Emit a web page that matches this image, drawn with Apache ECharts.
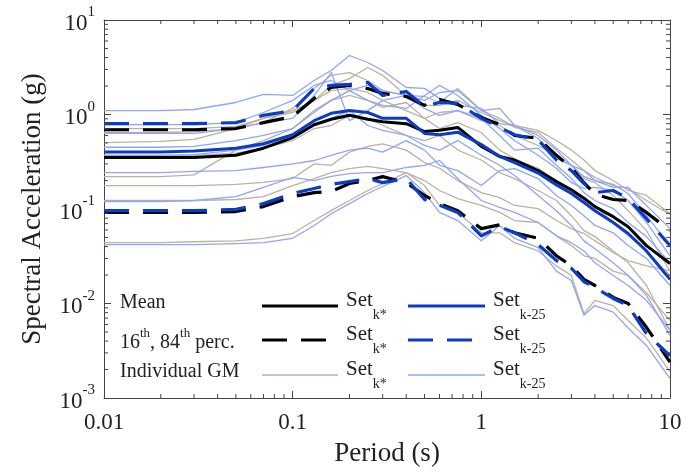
<!DOCTYPE html>
<html>
<head>
<meta charset="utf-8">
<script src="https://cdn.jsdelivr.net/npm/echarts@6/dist/echarts.min.js"></script>
<style>
  html, body { margin: 0; padding: 0; background: #ffffff; }
  #chart { width: 691px; height: 473px; }
</style>
</head>
<body>
<div id="chart"></div>
<script>
// Periods (s) at which every spectrum is sampled
const periods = [0.01, 0.02, 0.03, 0.05, 0.07, 0.1, 0.13, 0.16, 0.2, 0.25, 0.3, 0.4, 0.5, 0.6, 0.75,
                 1, 1.25, 1.5, 2, 2.5, 3, 3.5, 4, 5, 6, 7.5, 10];

// Mean spectra (g)
const meanKstar = [0.35, 0.35, 0.35, 0.37, 0.44, 0.57, 0.78, 0.89, 0.98, 0.89, 0.84, 0.80, 0.66, 0.68, 0.73,
                   0.46, 0.36, 0.33, 0.255, 0.195, 0.16, 0.13, 0.106, 0.083, 0.065, 0.041, 0.0265];
const meanK25 = [0.40, 0.40, 0.41, 0.44, 0.49, 0.61, 0.86, 1.03, 1.10, 1.05, 0.91, 0.91, 0.63, 0.61, 0.65,
                 0.48, 0.36, 0.31, 0.24, 0.18, 0.146, 0.117, 0.096, 0.072, 0.055, 0.036, 0.018];

// 84th percentile spectra (g)
const p84Kstar = [0.69, 0.69, 0.69, 0.71, 0.82, 0.95, 1.48, 1.93, 2.03, 1.88, 1.67, 1.55, 1.25, 1.44, 1.28,
                  0.93, 0.78, 0.60, 0.56, 0.37, 0.275, 0.19, 0.143, 0.126, 0.123, 0.092, 0.059];
const p84K25 = [0.80, 0.80, 0.80, 0.82, 0.98, 1.10, 1.89, 2.03, 2.08, 2.18, 1.59, 1.75, 1.22, 1.34, 1.31,
                0.91, 0.73, 0.61, 0.54, 0.33, 0.255, 0.186, 0.149, 0.157, 0.129, 0.079, 0.041];

// 16th percentile spectra (g)
const p16Kstar = [0.092, 0.092, 0.092, 0.094, 0.106, 0.135, 0.149, 0.153, 0.186, 0.20, 0.22, 0.19, 0.139, 0.114, 0.096,
                  0.062, 0.068, 0.056, 0.049, 0.032, 0.025, 0.018, 0.0155, 0.0116, 0.010, 0.0056, 0.0024];
const p16K25 = [0.096, 0.096, 0.096, 0.099, 0.114, 0.146, 0.165, 0.182, 0.195, 0.21, 0.19, 0.21, 0.126, 0.11, 0.092,
                0.052, 0.065, 0.056, 0.042, 0.0285, 0.0236, 0.017, 0.0148, 0.0113, 0.0095, 0.0048, 0.0028];

// Individual ground-motion spectra, set k*
const gmKstar = [
  [0.645, 0.645, 0.66, 0.71, 0.82, 1.16, 1.89, 2.59, 2.78, 2.29, 1.79, 1.59, 1.55, 1.34, 1.89, 1.10, 0.91, 0.73, 0.645, 0.44, 0.33, 0.255, 0.216, 0.177, 0.165, 0.123, 0.0875],
  [0.505, 0.52, 0.545, 0.71, 0.91, 1.10, 1.41, 1.79, 1.89, 1.71, 1.41, 1.10, 0.91, 1.05, 1.10, 0.86, 0.765, 0.60, 0.47, 0.37, 0.29, 0.21, 0.19, 0.139, 0.096, 0.059, 0.022],
  [0.22, 0.22, 0.23, 0.42, 0.53, 0.71, 1.05, 1.41, 1.59, 1.41, 1.19, 1.34, 0.91, 0.71, 0.82, 0.645, 0.42, 0.34, 0.27, 0.20, 0.149, 0.129, 0.109, 0.072, 0.052, 0.036, 0.0198],
  [0.177, 0.177, 0.177, 0.182, 0.191, 0.21, 0.30, 0.29, 0.40, 0.46, 0.49, 0.42, 0.31, 0.27, 0.20, 0.149, 0.132, 0.109, 0.101, 0.0755, 0.062, 0.055, 0.046, 0.0346, 0.0285, 0.025, 0.0223],
  [0.044, 0.044, 0.045, 0.046, 0.049, 0.055, 0.0755, 0.096, 0.123, 0.157, 0.186, 0.243, 0.177, 0.109, 0.092, 0.056, 0.056, 0.044, 0.036, 0.025, 0.0198, 0.0078, 0.0108, 0.0095, 0.0066, 0.0043, 0.0019],
  [0.71, 0.71, 0.71, 0.75, 0.91, 1.05, 1.41, 2.03, 2.40, 3.14, 2.59, 1.59, 1.25, 1.25, 1.41, 1.05, 0.86, 0.765, 0.68, 0.53, 0.42, 0.33, 0.255, 0.20, 0.157, 0.139, 0.089],
  [0.37, 0.37, 0.37, 0.39, 0.44, 0.53, 0.71, 0.765, 0.98, 0.91, 0.765, 0.60, 0.53, 0.60, 0.42, 0.33, 0.243, 0.21, 0.157, 0.123, 0.085, 0.059, 0.051, 0.036, 0.027, 0.0155, 0.0052],
  [0.123, 0.123, 0.123, 0.126, 0.135, 0.177, 0.21, 0.243, 0.268, 0.282, 0.268, 0.243, 0.20, 0.157, 0.129, 0.109, 0.092, 0.0755, 0.072, 0.052, 0.041, 0.032, 0.030, 0.022, 0.0198, 0.013, 0.0066]
];

// Individual ground-motion spectra, set k-25
const gmK25 = [
  [1.10, 1.10, 1.13, 1.34, 1.63, 1.59, 2.29, 2.92, 4.21, 3.55, 2.92, 1.93, 1.89, 1.48, 1.25, 1.16, 0.80, 0.765, 0.60, 0.42, 0.29, 0.22, 0.20, 0.169, 0.169, 0.109, 0.062],
  [0.63, 0.63, 0.63, 0.71, 0.82, 0.91, 1.59, 2.78, 0.86, 1.10, 1.41, 1.59, 1.16, 0.98, 1.10, 0.91, 0.60, 0.42, 0.44, 0.29, 0.21, 0.149, 0.123, 0.101, 0.072, 0.051, 0.027],
  [0.45, 0.45, 0.46, 0.53, 0.60, 0.71, 1.10, 1.41, 1.79, 2.03, 1.79, 1.59, 1.41, 1.71, 1.79, 1.10, 1.16, 0.765, 0.557, 0.342, 0.289, 0.255, 0.20, 0.182, 0.146, 0.085, 0.041],
  [0.243, 0.243, 0.25, 0.255, 0.275, 0.30, 0.326, 0.37, 0.42, 0.44, 0.40, 0.53, 0.42, 0.29, 0.255, 0.177, 0.255, 0.268, 0.21, 0.139, 0.109, 0.085, 0.067, 0.056, 0.041, 0.030, 0.0155],
  [0.12, 0.12, 0.123, 0.135, 0.169, 0.216, 0.20, 0.221, 0.237, 0.243, 0.243, 0.275, 0.289, 0.326, 0.21, 0.123, 0.104, 0.092, 0.072, 0.052, 0.044, 0.036, 0.027, 0.0198, 0.0155, 0.0108, 0.0052],
  [0.042, 0.042, 0.042, 0.043, 0.044, 0.049, 0.067, 0.089, 0.114, 0.146, 0.173, 0.226, 0.149, 0.092, 0.0755, 0.046, 0.067, 0.049, 0.039, 0.022, 0.0175, 0.0075, 0.0095, 0.0081, 0.0055, 0.0036, 0.0016],
  [0.78, 0.78, 0.78, 0.82, 1.05, 1.41, 2.03, 2.29, 1.79, 1.41, 1.25, 1.16, 1.59, 2.03, 1.59, 0.98, 0.71, 0.53, 0.37, 0.27, 0.19, 0.165, 0.169, 0.157, 0.123, 0.072, 0.032],
  [0.37, 0.37, 0.377, 0.42, 0.47, 0.60, 0.765, 0.91, 1.10, 0.765, 0.68, 0.60, 0.47, 0.42, 0.53, 0.37, 0.29, 0.226, 0.139, 0.096, 0.067, 0.046, 0.038, 0.027, 0.0198, 0.0122, 0.0046]
];

// Axis ranges
const xRange = [0.01, 10];
const yRange = [0.001, 10];

const FONT = '"Liberation Serif", "Times New Roman", serif';
const TXT = '#222';
const AXIS = '#444';
const C_BLACK = '#000000';
const C_BLUE = '#0a3cc8';
const C_GRAY = '#bab2a3';
const C_LBLUE = '#8fa6f7';
const DASH = [25, 14];

const pairs = vals => periods.map((p, i) => [p, vals[i]]);

function lineSeries(name, vals, color, width, dash, z) {
  return {
    name, type: 'line', data: pairs(vals), showSymbol: false, symbol: 'none',
    silent: true, z, animation: false,
    lineStyle: { color, width, type: dash || 'solid', cap: 'butt', join: 'round' }
  };
}

// Minor tick positions (2..9 within every decade)
function minorTicks(lo, hi) {
  const out = [];
  for (let d = lo; d < hi * 0.999; d *= 10) {
    for (let k = 2; k <= 9; k++) out.push(+(d * k).toPrecision(3));
  }
  return out;
}
const xMinor = minorTicks(xRange[0], xRange[1]);
const yMinor = minorTicks(yRange[0], yRange[1]);

const series = [];
gmKstar.forEach((v, i) => series.push(lineSeries('Set k* GM ' + (i + 1), v, C_GRAY, 1.3, null, 2)));
gmK25.forEach((v, i) => series.push(lineSeries('Set k-25 GM ' + (i + 1), v, C_LBLUE, 1.3, null, 2)));
series.push(lineSeries('Set k* 84th', p84Kstar, C_BLACK, 3.2, DASH, 3));
series.push(lineSeries('Set k* 16th', p16Kstar, C_BLACK, 3.2, DASH, 3));
series.push(lineSeries('Set k* mean', meanKstar, C_BLACK, 3, null, 3));
series.push(lineSeries('Set k-25 84th', p84K25, C_BLUE, 3.2, DASH, 4));
series.push(lineSeries('Set k-25 16th', p16K25, C_BLUE, 3.2, DASH, 4));
series.push(lineSeries('Set k-25 mean', meanK25, C_BLUE, 3, null, 4));

// Minor ticks on all four sides, placed through the axis scales
series.push({
  type: 'custom', silent: true, z: 10, animation: false,
  data: xMinor.map(v => [v, 1]),
  renderItem: (params, api) => {
    const v = api.value(0);
    const b = api.coord([v, yRange[0]]);
    const t = api.coord([v, yRange[1]]);
    const st = { stroke: AXIS, lineWidth: 1 };
    return { type: 'group', children: [
      { type: 'line', shape: { x1: b[0], y1: b[1], x2: b[0], y2: b[1] - 4 }, style: st },
      { type: 'line', shape: { x1: t[0], y1: t[1], x2: t[0], y2: t[1] + 4 }, style: st }
    ]};
  }
});
series.push({
  type: 'custom', silent: true, z: 10, animation: false,
  data: yMinor.map(v => [1, v]),
  renderItem: (params, api) => {
    const v = api.value(1);
    const l = api.coord([xRange[0], v]);
    const r = api.coord([xRange[1], v]);
    const st = { stroke: AXIS, lineWidth: 1 };
    return { type: 'group', children: [
      { type: 'line', shape: { x1: l[0], y1: l[1], x2: l[0] + 4, y2: l[1] }, style: st },
      { type: 'line', shape: { x1: r[0], y1: r[1], x2: r[0] - 4, y2: r[1] }, style: st }
    ]};
  }
});

const baseX = {
  type: 'log', logBase: 10, min: xRange[0], max: xRange[1],
  splitLine: { show: false },
  axisLine: { show: true, lineStyle: { color: AXIS, width: 1 } },
  axisTick: { show: true, inside: true, length: 7, lineStyle: { color: AXIS } },
  minorTick: { show: false }
};
const baseY = {
  type: 'log', logBase: 10, min: yRange[0], max: yRange[1],
  splitLine: { show: false },
  axisLine: { show: true, lineStyle: { color: AXIS, width: 1 } },
  axisTick: { show: true, inside: true, length: 7, lineStyle: { color: AXIS } },
  minorTick: { show: false }
};

// Legend rows
const legendRows = [
  { label: 'Mean', y: 306, dash: null, wK: 3, wB: 3, cK: C_BLACK, cB: C_BLUE },
  { label: '{n|16}{s|th}{n|, 84}{s|th}{n| perc.}', y: 340, dash: DASH, wK: 3.2, wB: 3.2, cK: C_BLACK, cB: C_BLUE },
  { label: 'Individual GM', y: 375, dash: null, wK: 1.3, wB: 1.3, cK: C_GRAY, cB: C_LBLUE }
];
const legendGraphics = [];
legendRows.forEach(r => {
  legendGraphics.push({
    type: 'text', left: 120, top: r.y - 13, z: 20,
    style: {
      text: r.label, fill: TXT, font: '20px ' + FONT,
      rich: {
        n: { fontSize: 20, fontFamily: FONT, lineHeight: 26, verticalAlign: 'bottom', fill: TXT },
        s: { fontSize: 13, fontFamily: FONT, lineHeight: 13, verticalAlign: 'top', fill: TXT }
      }
    }
  });
  legendGraphics.push({
    type: 'line', z: 20, shape: { x1: 262, y1: r.y, x2: 338, y2: r.y },
    style: { stroke: r.cK, lineWidth: r.wK, lineDash: r.dash || null }
  });
  legendGraphics.push({
    type: 'line', z: 20, shape: { x1: 408, y1: r.y, x2: 485, y2: r.y },
    style: { stroke: r.cB, lineWidth: r.wB, lineDash: r.dash || null }
  });
  const setRich = {
    n: { fontSize: 21, fontFamily: FONT, lineHeight: 32, verticalAlign: 'top', fill: TXT },
    u: { fontSize: 14, fontFamily: FONT, lineHeight: 14, verticalAlign: 'bottom', fill: TXT }
  };
  legendGraphics.push({
    type: 'text', left: 346, top: r.y - 16, z: 20,
    style: { text: '{n|Set}{u|k*}', rich: setRich }
  });
  legendGraphics.push({
    type: 'text', left: 493, top: r.y - 16, z: 20,
    style: { text: '{n|Set}{u|k-25}', rich: setRich }
  });
});

const chart = echarts.init(document.getElementById('chart'), null, { renderer: 'canvas' });
chart.setOption({
  animation: false,
  backgroundColor: '#ffffff',
  grid: { left: 104, right: 21, top: 20, bottom: 75, containLabel: false },
  xAxis: [
    Object.assign({}, baseX, {
      position: 'bottom',
      name: 'Period (s)', nameLocation: 'middle', nameGap: 42,
      nameTextStyle: { fontFamily: FONT, fontSize: 27, color: TXT },
      axisLabel: {
        show: true, margin: 13, fontFamily: FONT, fontSize: 23, color: TXT,
        formatter: v => String(Number(v.toPrecision(6)))
      }
    }),
    Object.assign({}, baseX, { position: 'top', axisLabel: { show: false } })
  ],
  yAxis: [
    Object.assign({}, baseY, {
      position: 'left',
      name: 'Spectral Acceleration (g)', nameLocation: 'middle', nameGap: 58, nameRotate: 90,
      nameTextStyle: { fontFamily: FONT, fontSize: 27, color: TXT },
      axisLabel: {
        show: true, margin: 9, color: TXT,
        formatter: v => '{b|10}{s|' + Math.round(Math.log10(v)) + '}',
        rich: {
          b: { fontFamily: FONT, fontSize: 23, lineHeight: 30, verticalAlign: 'bottom', color: TXT },
          s: { fontFamily: FONT, fontSize: 15, lineHeight: 15, verticalAlign: 'top', color: TXT }
        }
      }
    }),
    Object.assign({}, baseY, { position: 'right', axisLabel: { show: false } })
  ],
  series,
  graphic: legendGraphics
});
</script>
</body>
</html>
